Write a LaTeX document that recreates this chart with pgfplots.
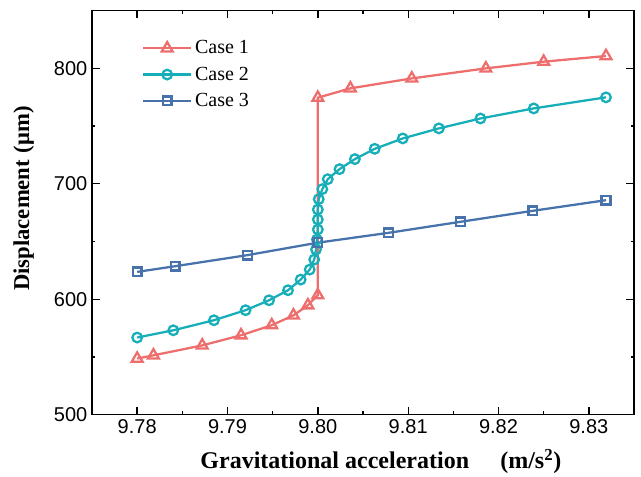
\documentclass[border=0pt]{standalone}
\usepackage{fontspec}
\setmainfont{Liberation Serif}
\setsansfont{Liberation Sans}
\usepackage{pgfplots}
\pgfplotsset{compat=1.18}

\definecolor{cOne}{RGB}{238,110,110}
\definecolor{cTwo}{RGB}{22,174,184}
\definecolor{cThree}{RGB}{72,114,172}

\begin{document}
\begin{tikzpicture}
\begin{axis}[
    scale only axis,
    width=406.5pt, height=303pt,
    xmin=9.775, xmax=9.835,
    ymin=500, ymax=850,
    xtick={9.78,9.79,9.80,9.81,9.82,9.83},
    ytick={500,600,700,800},
    minor x tick num=1,
    minor y tick num=1,
    tick pos=both,
    tick align=inside,
    major tick length=5.8pt,
    minor tick length=2.6pt,
    axis line style={line width=1.2pt},
    every tick/.style={line width=1pt, black},
    x tick label style={/pgf/number format/.cd, fixed, fixed zerofill, precision=2},
    /pgf/number format/assume math mode=true,
    tick label style={font=\sffamily\fontsize{15}{17}\selectfont},
    xlabel={\textbf{Gravitational acceleration\hspace{1.3em}(m/s\textsuperscript{2})}},
    ylabel={\textbf{Displacement\hspace{0.3em}(μm)}},
    xlabel style={font=\fontsize{18}{21}\selectfont, at={(axis description cs:0.533,-0.116)}, anchor=center},
    ylabel style={font=\fontsize{17}{20}\selectfont, at={(axis description cs:-0.1262,0.535)}, anchor=center},
    legend style={draw=none, fill=none, at={(0.0917,0.94)}, anchor=north west,
        inner sep=0pt, row sep=0pt,
        font=\fontsize{15}{18}\selectfont,
        nodes={inner ysep=2.1pt, text height=12pt, text depth=3.5pt}},
    legend cell align=left,
    legend image code/.code={\draw[mark repeat=2,mark phase=2] plot coordinates {(0cm,0cm) (0.635cm,0cm) (1.27cm,0cm)};},
]
\addplot[color=cOne, line width=1.7pt, mark=triangle, mark size=4.7pt,
    mark options={fill=white, solid}] coordinates {
(9.7800,548.6) (9.7818,551.4) (9.7872,560.0) (9.7915,568.8) (9.7949,577.5)
(9.7973,586.0) (9.7989,594.8) (9.8000,603.5) (9.8000,774.6) (9.8036,782.7)
(9.8104,791.3) (9.8186,800.0) (9.8250,805.8) (9.8319,810.7)
};
\addlegendentry{Case 1}
\addplot[color=cTwo, line width=1.7pt, mark=o, mark size=3.6pt,
    mark options={fill=white, solid}] coordinates {
(9.7800,566.8) (9.7840,573.1) (9.7885,581.8) (9.7920,590.5) (9.7946,599.1)
(9.7967,607.8) (9.7981,617.0) (9.7991,625.7) (9.7996,634.4) (9.7998,643.1)
(9.7999,651.7) (9.8000,660.4) (9.8000,669.1) (9.8000,677.7) (9.8001,686.7)
(9.8005,695.4) (9.8011,704.0) (9.8024,712.7) (9.8041,721.4) (9.8063,730.3)
(9.8094,739.3) (9.8134,748.0) (9.8180,756.6) (9.8239,765.3) (9.8319,774.9)
};
\addlegendentry{Case 2}
\addplot[color=cThree, line width=1.7pt, mark=square, mark size=3.3pt,
    mark options={fill=white, solid}] coordinates {
(9.7800,623.7) (9.7842,628.6) (9.7922,638.2) (9.8000,649.0) (9.8078,657.5)
(9.8158,667.1) (9.8238,676.6) (9.8319,685.8)
};
\addlegendentry{Case 3}
\end{axis}
\pgfresetboundingbox
\path ([shift={(-69pt,-46.5pt)}]current axis.south west) rectangle ([shift={(5.25pt,8pt)}]current axis.north east);
\end{tikzpicture}
\end{document}
